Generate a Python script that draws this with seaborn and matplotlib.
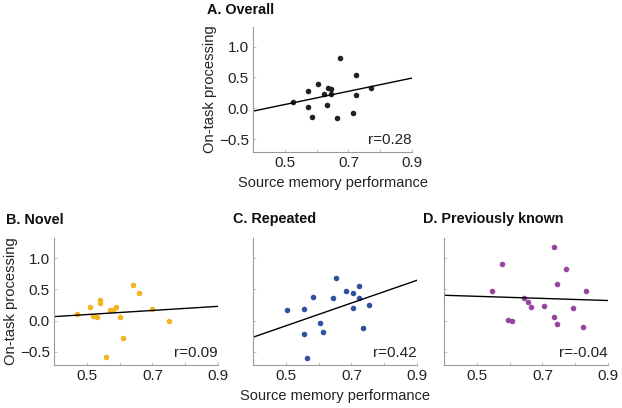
import numpy as np
import pandas as pd
import matplotlib
matplotlib.use("Agg")
import matplotlib.pyplot as plt
import seaborn as sns

sns.set_theme(style="white")
plt.rcParams['font.family'] = ['Liberation Sans', 'DejaVu Sans']

# Data
overall_x = [0.525, 0.574, 0.574, 0.585, 0.604, 0.624, 0.635, 0.645, 0.644, 0.634, 0.664, 0.674, 0.724, 0.724, 0.714, 0.772]
overall_y = [0.096, 0.287, 0.016, -0.149, 0.388, 0.229, 0.324, 0.314, 0.229, 0.053, -0.154, 0.809, 0.543, 0.218, -0.069, 0.330]

novel_x = [0.471, 0.510, 0.520, 0.530, 0.540, 0.540, 0.571, 0.581, 0.590, 0.601, 0.611, 0.560, 0.640, 0.660, 0.700, 0.751]
novel_y = [0.105, 0.219, 0.073, 0.053, 0.323, 0.282, 0.162, 0.172, 0.219, 0.053, -0.286, -0.588, 0.573, 0.448, 0.193, -0.010]

repeated_x = [0.504, 0.554, 0.554, 0.564, 0.584, 0.603, 0.614, 0.645, 0.654, 0.685, 0.705, 0.705, 0.724, 0.724, 0.755, 0.735]
repeated_y = [0.163, 0.179, -0.216, -0.600, 0.379, -0.042, -0.179, 0.353, 0.684, 0.479, 0.442, 0.200, 0.547, 0.358, 0.242, -0.126]

known_x = [0.734, 0.576, 0.773, 0.744, 0.546, 0.833, 0.645, 0.655, 0.665, 0.705, 0.792, 0.734, 0.596, 0.606, 0.744, 0.823]
known_y = [1.184, 0.905, 0.832, 0.589, 0.474, 0.468, 0.353, 0.300, 0.216, 0.237, 0.205, 0.053, 0.011, 0.000, -0.058, -0.095]

titles = ["A. Overall", "B. Novel", "C. Repeated", "D. Previously known"]
r_labels = ["r=0.28", "r=0.09", "r=0.42", "r=-0.04"]
colors = ["#222222", "#F5B320", "#3050A0", "#9645A0"]
xticks = [0.4, 0.5, 0.6, 0.7, 0.8, 0.9]
xticklabels = ["", "0.5", "", "0.7", "", "0.9"]
yticks = [-0.5, 0.0, 0.5, 1.0]
yticklabels = ["\u22120.5", "0.0", "0.5", "1.0"]

datasets = [(overall_x, overall_y), (novel_x, novel_y), (repeated_x, repeated_y), (known_x, known_y)]

W, H = 622, 408
fig = plt.figure(figsize=(W / 100, H / 100), dpi=100)

# axes boxes in pixels: left, top, right, bottom
boxes = [(253, 27, 412, 152), (54, 238, 218, 365), (253, 238, 417, 365), (444, 238, 608, 365)]
show_ylabels = [True, True, False, False]
show_xlabel = [True, False, True, False]
title_px = [(207, 10), (6, 220), (233, 219), (423, 219)]

for i, ((x, y), box) in enumerate(zip(datasets, boxes)):
    l, t, r, b = box
    ax = fig.add_axes([l / W, 1 - b / H, (r - l) / W, (b - t) / H])
    ax.set_xlim(0.4, 0.9)
    ax.set_ylim(-0.71, 1.32)
    df = pd.DataFrame({"x": x, "y": y})
    sns.regplot(data=df, x="x", y="y", ax=ax, ci=None, truncate=False,
                scatter_kws=dict(s=16, color=colors[i], linewidths=0, alpha=1),
                line_kws=dict(color="black", lw=1.0))
    ax.set_xlim(0.4, 0.9)
    ax.set_ylim(-0.71, 1.32)
    for s in ["top", "right"]:
        ax.spines[s].set_visible(False)
    for s in ["left", "bottom"]:
        ax.spines[s].set_color("#9a9a9a")
        ax.spines[s].set_linewidth(0.8)
    ax.set_xticks(xticks)
    ax.set_xticklabels(xticklabels)
    ax.set_yticks(yticks)
    if show_ylabels[i]:
        ax.set_yticklabels(yticklabels)
        ax.set_ylabel("On-task processing", fontsize=10.6, color="#222222", labelpad=1)
    else:
        ax.set_yticklabels([])
        ax.set_ylabel("")
    if show_xlabel[i]:
        ax.set_xlabel("Source memory performance", fontsize=10.5, color="#222222", labelpad=4)
    else:
        ax.set_xlabel("")
    ax.tick_params(axis="both", direction="in", length=2, width=0.6, color="#bbbbbb",
                   labelsize=11, labelcolor="#222222", pad=3)
    ax.tick_params(axis="y", left=True)
    ax.tick_params(axis="x", bottom=True)
    ax.text(1.0, 0.095, r_labels[i], transform=ax.transAxes, ha="right", va="center",
            fontsize=11, color="#222222")
    tx, ty = title_px[i]
    fig.text(tx / W, 1 - ty / H, titles[i], ha="left", va="center",
             fontsize=10.4, fontweight="bold", color="#111111")

fig.savefig("out.png", dpi=100)
